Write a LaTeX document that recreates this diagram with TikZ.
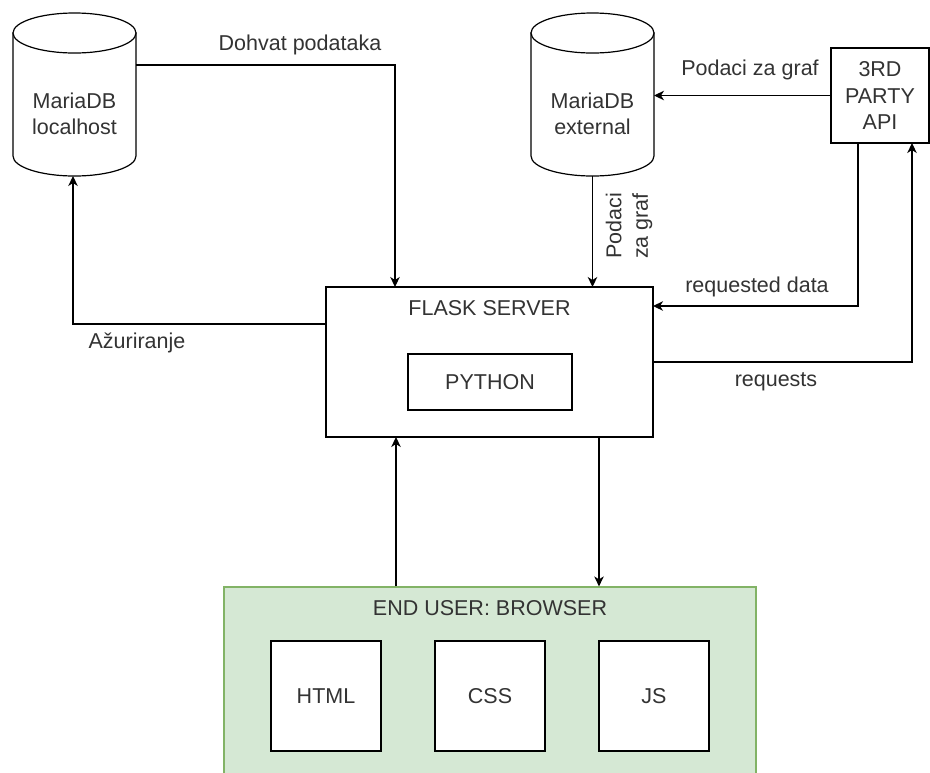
\documentclass[tikz,border=0pt]{standalone}
\usepackage{fontspec}
\setmainfont{Liberation Sans}
\usetikzlibrary{arrows.meta}
\definecolor{txt}{HTML}{333333}
\definecolor{gfill}{HTML}{D5E8D4}
\definecolor{gline}{HTML}{82B366}
\tikzset{
  box/.style={draw=black, line width=1.2pt, fill=white, inner sep=0pt, outer sep=0pt, align=center, text=txt},
  hit/.style={inner sep=0pt, outer sep=0pt},
  lbl/.style={inner sep=0pt, align=center, text=txt},
  arr/.style={draw=black, line width=1.2pt, -{Stealth[length=10pt,width=9.5pt,inset=3pt]}},
  cyl/.style={draw=black, line width=1.2pt, fill=white},
}
\begin{document}
\begin{tikzpicture}[x=1pt,y=-1pt,font=\fontsize{21.5}{26.5}\selectfont]
\path[use as bounding box] (0,0) rectangle (930,772);
\fill[white] (0,0) rectangle (930,772);
\clip (0,0) rectangle (930,772);

% cylinders
\node[hit, minimum width=123pt, minimum height=163pt] (db1) at (74.5,94.5) {};
\filldraw[cyl] (13,33) -- (13,156) arc[start angle=180, end angle=360, x radius=61.5pt, y radius=20pt] -- (136,33) -- cycle;
\filldraw[cyl] (74.5,33) ellipse[x radius=61.5pt, y radius=20pt];
\node[lbl] (db1t) at (74.5,114) {MariaDB\\localhost};

\node[hit, minimum width=123pt, minimum height=163pt] (db2) at (592.5,94.5) {};
\filldraw[cyl] (531,33) -- (531,156) arc[start angle=180, end angle=360, x radius=61.5pt, y radius=20pt] -- (654,33) -- cycle;
\filldraw[cyl] (592.5,33) ellipse[x radius=61.5pt, y radius=20pt];
\node[lbl] (db2t) at (592.5,114) {MariaDB\\external};

% API
\node[box, minimum width=98pt, minimum height=95pt] (api) at (880,95.5) {3RD\\PARTY\\API};

% Flask server
\node[box, minimum width=327pt, minimum height=150pt] (flask) at (489.5,362) {};
\node[lbl] (flaskt) at (489.5,308) {FLASK SERVER};
\node[box, minimum width=164pt, minimum height=56pt] (python) at (490,382) {PYTHON};

% Browser
\node[draw=gline, fill=gfill, line width=1.2pt, inner sep=0pt, minimum width=532pt, minimum height=190pt] (browser) at (490,682) {};
\node[lbl] (browsert) at (490,608) {END USER: BROWSER};
\node[box, minimum width=110pt, minimum height=110pt] (html) at (326,696) {HTML};
\node[box, minimum width=110pt, minimum height=110pt] (css) at (490,696) {CSS};
\node[box, minimum width=110pt, minimum height=110pt] (js) at (654,696) {JS};

% connectors
\draw[arr] ([yshift=-52pt]db1.north east) -| ([xshift=-94.5pt]flask.north);
\node[lbl] (l1) at (300,45) {Dohvat podataka};

\draw[arr] ([yshift=38pt]flask.west) -| ([xshift=-1.5pt]db1.south);
\node[lbl] (l2) at (137,343) {Ažuriranje};

\draw[arr] (db2.south) -- (db2.south |- flask.north);
\node[lbl, rotate=90] (l3) at (629,226) {Podaci\\za graf};

\draw[arr] (api.west) -- (api.west -| db2.east);
\node[lbl] (l4) at (750,70) {Podaci za graf};

\draw[arr] ([xshift=-22pt]api.south) |- ([yshift=56pt]flask.east);
\node[lbl] (l5) at (757,287) {requested data};

\draw[arr] (flask.east) -| ([xshift=32pt]api.south);
\node[lbl] (l6) at (776,382) {requests};

\draw[arr] ([xshift=-94pt]browser.north) -- ([xshift=-94pt]browser.north |- flask.south);
\draw[arr] ([xshift=109.5pt]flask.south) -- ([xshift=109.5pt]flask.south |- browser.north);
\end{tikzpicture}
\end{document}
